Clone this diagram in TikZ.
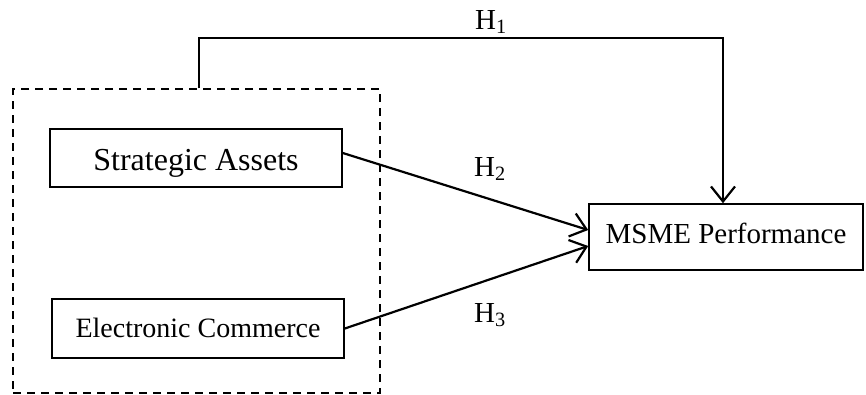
\documentclass[tikz,border=0pt]{standalone}
\usepackage{fontspec}
\setmainfont{Liberation Serif}
\usetikzlibrary{arrows.meta}
\begin{document}
\begin{tikzpicture}[x=1pt,y=-1pt,
  box/.style={draw,line width=1.6pt,inner sep=0pt,anchor=center,text depth=0pt},
  grpbox/.style={draw,line width=1.5pt,dash pattern=on 8pt off 6pt,inner sep=0pt,minimum width=367pt,minimum height=304pt},
  arr/.style={line width=2.2pt,-{Straight Barb[length=15pt,width=24pt,line width=2.2pt]}},
  hlab/.style={anchor=base west,inner sep=0pt,font=\fontsize{29}{33}\selectfont}]
\useasboundingbox (0,0) rectangle (866,394);
\node[grpbox] (grp) at (196.5,241) {};
\node[box,minimum width=292pt,minimum height=58pt,font=\fontsize{32}{36}\selectfont,text height=25pt] (sa) at (196,158) {Strategic Assets};
\node[box,minimum width=292pt,minimum height=59pt,font=\fontsize{28}{32}\selectfont,text height=17pt] (ec) at (198,328.5) {Electronic Commerce};
\node[box,minimum width=274pt,minimum height=66pt,font=\fontsize{29}{33}\selectfont,text height=12pt] (msme) at (726,237) {MSME Performance};
\coordinate (h1c) at (723,38);
\draw[arr] ([xshift=2.5pt]grp.north) |- (h1c) -- (h1c |- msme.north);
\draw[arr] ([yshift=5pt]sa.east) -- ([yshift=7pt]msme.west);
\draw[arr] (ec.east) -- ([yshift=-9pt]msme.west);
\node[hlab] (h1) at (475,29) {H\textsubscript{1}};
\node[hlab] (h2) at (474,176) {H\textsubscript{2}};
\node[hlab] (h3) at (474,322) {H\textsubscript{3}};
\end{tikzpicture}
\end{document}
